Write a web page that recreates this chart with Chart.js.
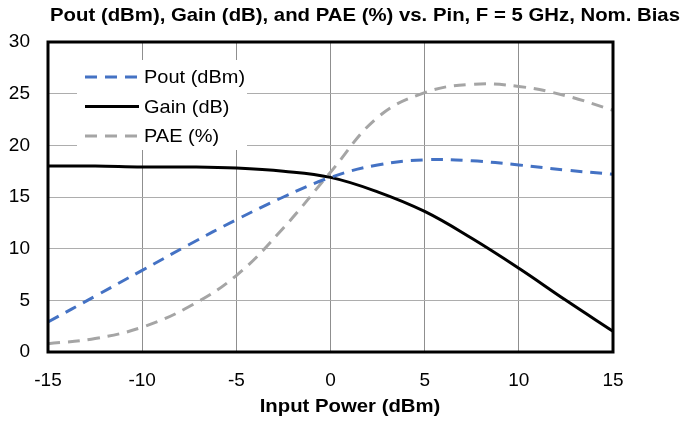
<!DOCTYPE html>
<html>
<head>
<meta charset="utf-8">
<script src="https://cdn.jsdelivr.net/npm/chart.js@4/dist/chart.umd.min.js"></script>
<style>
  html, body { margin: 0; padding: 0; background: #fff; }
  #wrap { width: 684px; height: 421px; }
</style>
</head>
<body>
<div id="wrap"><canvas id="chart"></canvas></div>
<script>
const pin = [-15, -12.5, -10, -7.5, -5, -2.5, 0, 2.5, 5, 7.5, 10, 12.5, 15];
const pout = [2.9, 5.4, 7.9, 10.4, 12.8, 15.0, 16.9, 18.1, 18.6, 18.5, 18.1, 17.6, 17.2];
const gain = [18.0, 18.0, 17.9, 17.9, 17.8, 17.5, 16.9, 15.5, 13.6, 11.0, 8.1, 5.0, 2.0];
const pae = [0.8, 1.3, 2.4, 4.4, 7.4, 12.0, 17.4, 22.7, 25.1, 25.9, 25.7, 24.8, 23.4];
const xTicks = [-15, -10, -5, 0, 5, 10, 15];
const yTicks = [0, 5, 10, 15, 20, 25, 30];
const titleText = "Pout (dBm), Gain (dB), and PAE (%) vs. Pin, F = 5 GHz, Nom. Bias";
const xTitle = "Input Power (dBm)";

const font = "'Liberation Sans', Arial, Helvetica, sans-serif";
const toPoints = ys => pin.map((x, i) => ({ x, y: ys[i] }));

// text drawn a little wider, like the Helvetica in the original
function wideText(ctx, text, x, y, stretch) {
  ctx.save();
  ctx.translate(x, y);
  ctx.scale(stretch, 1);
  ctx.fillText(text, 0, 0);
  ctx.restore();
}

// legend inside the plot, titles and frame
const extras = {
  id: "extras",
  afterDatasetsDraw(chart) {
    const { ctx, chartArea: a } = chart;
    ctx.save();

    ctx.fillStyle = "#fff";
    ctx.fillRect(a.left + 29, a.top + 18, 170, 90);
    ctx.font = "18.5px " + font;
    ctx.textBaseline = "middle";
    ctx.textAlign = "left";
    chart.data.datasets.forEach((ds, i) => {
      const y = a.top + 35 + i * 29.5;
      ctx.strokeStyle = ds.borderColor;
      ctx.lineWidth = ds.borderWidth;
      ctx.setLineDash(ds.borderDash || []);
      ctx.beginPath();
      ctx.moveTo(a.left + 37, y);
      ctx.lineTo(a.left + 91, y);
      ctx.stroke();
      ctx.setLineDash([]);
      ctx.fillStyle = "#000";
      wideText(ctx, ds.label, a.left + 96, y + 1, 1.08);
    });

    ctx.strokeStyle = "#000";
    ctx.lineWidth = 3;
    ctx.strokeRect(a.left, a.top, a.right - a.left, a.bottom - a.top);

    ctx.fillStyle = "#000";
    ctx.textAlign = "center";
    ctx.textBaseline = "alphabetic";
    ctx.font = "bold 18.5px " + font;
    wideText(ctx, titleText, 365, 21, 1.1);
    ctx.font = "bold 19px " + font;
    wideText(ctx, xTitle, 350, 412, 1.07);
    ctx.restore();
  }
};

new Chart(document.getElementById("chart"), {
  type: "line",
  data: {
    datasets: [
      { label: "Pout (dBm)", data: toPoints(pout), borderColor: "#4472C4", borderWidth: 3, borderDash: [12, 8], pointRadius: 0, tension: 0.4 },
      { label: "Gain (dB)", data: toPoints(gain), borderColor: "#000000", borderWidth: 3, pointRadius: 0, tension: 0.4 },
      { label: "PAE (%)", data: toPoints(pae), borderColor: "#A5A5A5", borderWidth: 3, borderDash: [12, 8], pointRadius: 0, tension: 0.4 }
    ]
  },
  options: {
    responsive: true,
    maintainAspectRatio: false,
    animation: false,
    layout: { padding: { top: 42, right: 71, left: 0, bottom: 0 } },
    plugins: { legend: { display: false }, title: { display: false }, tooltip: { enabled: false } },
    scales: {
      x: {
        type: "linear", min: -15, max: 15,
        afterFit: s => { s.height = 69; },
        afterBuildTicks: s => { s.ticks = xTicks.map(v => ({ value: v })); },
        ticks: { color: "#000", font: { family: font, size: 19 }, padding: 17, maxRotation: 0 },
        grid: { color: "#8f8f8f", lineWidth: 1, drawTicks: false },
        border: { display: false }
      },
      y: {
        min: 0, max: 30,
        afterFit: s => { s.width = 48; },
        afterBuildTicks: s => { s.ticks = yTicks.map(v => ({ value: v })); },
        ticks: { color: "#000", font: { family: font, size: 19 }, padding: 18 },
        grid: { color: "#adadad", lineWidth: 1, drawTicks: false },
        border: { display: false }
      }
    }
  },
  plugins: [extras]
});
</script>
</body>
</html>
